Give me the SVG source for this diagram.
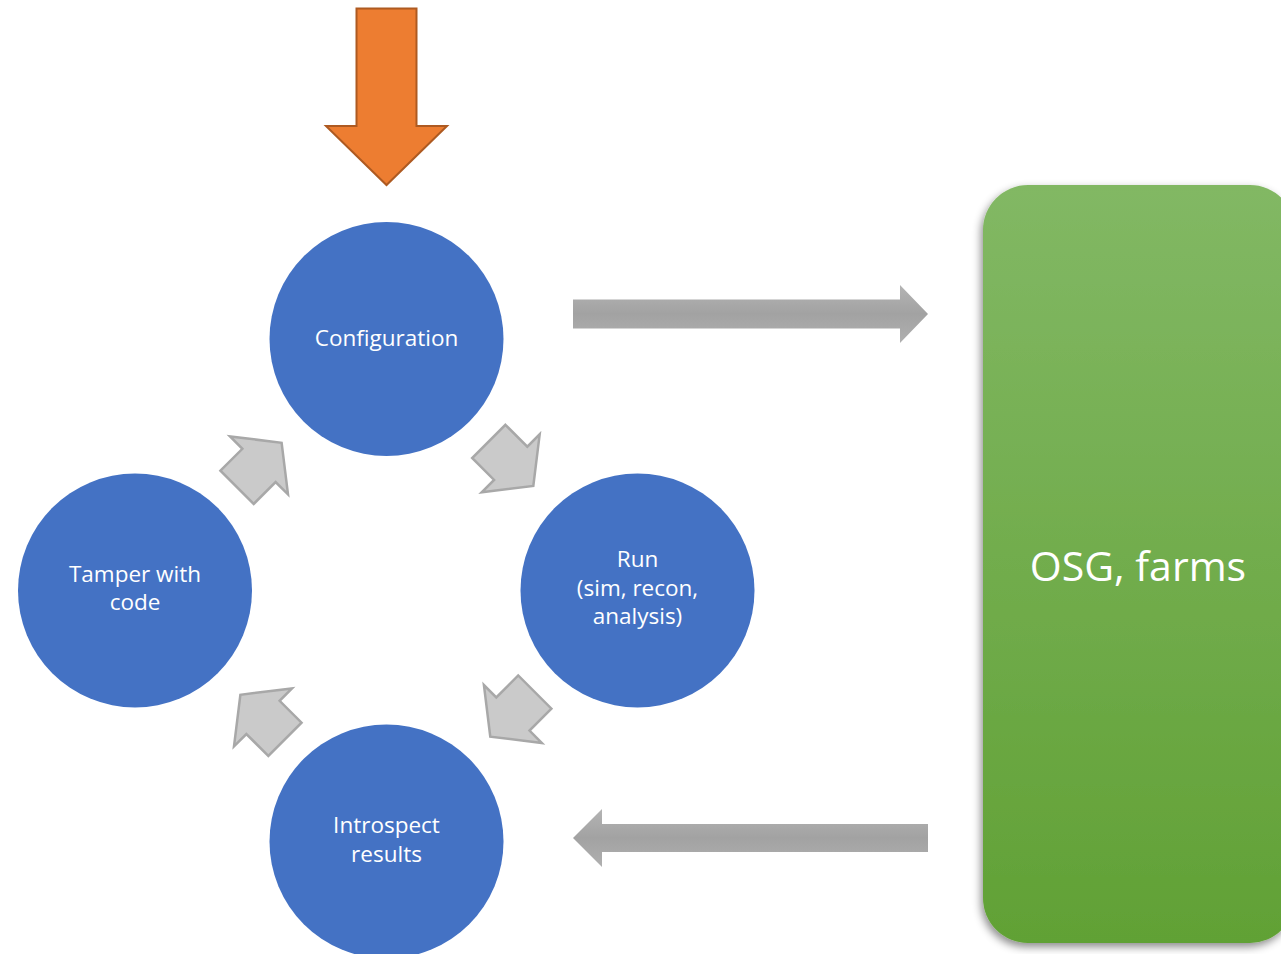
<svg xmlns="http://www.w3.org/2000/svg" width="1281" height="954" viewBox="0 0 1281 954">
<style>
.node{fill:#4472C4}
.lbl{fill:#fff;font-family:"Open Sans","Noto Sans",sans-serif;font-size:22.5px;text-anchor:middle}
.big{fill:#fff;font-family:"Open Sans","Noto Sans",sans-serif;font-size:41px;text-anchor:middle}
.small{fill:#CACACA;stroke:#A8A8A8;stroke-width:2.5;stroke-linejoin:miter}
.wide{fill:url(#gray)}
</style>
<defs>
<linearGradient id="gray" x1="0" y1="0" x2="0" y2="1">
<stop offset="0" stop-color="#B4B4B4"/><stop offset="0.5" stop-color="#A2A2A2"/><stop offset="1" stop-color="#B0B0B0"/>
</linearGradient>
<linearGradient id="green" x1="0" y1="0" x2="0" y2="1">
<stop offset="0" stop-color="#82B864"/><stop offset="1" stop-color="#61A135"/>
</linearGradient>
<filter id="sh" x="-10%" y="-10%" width="130%" height="120%">
<feDropShadow dx="-2" dy="4" stdDeviation="4" flood-color="#000" flood-opacity="0.45"/>
</filter>
<polygon id="sa" points="-31,-23.5 0,-23.5 0,-41 32,0 0,41 0,23.5 -31,23.5"/>
</defs>

<g id="input-arrow">
<polygon points="356.5,8.5 416.5,8.5 416.5,126 447,126 386.5,185 326,126 356.5,126" fill="#ED7D31" stroke="#AE5A21" stroke-width="2"/>
</g>

<g id="osg">
<rect x="983" y="185" width="312" height="758" rx="45" ry="45" fill="url(#green)" filter="url(#sh)"/>
<text class="big" x="1138" y="581">OSG, farms</text>
</g>

<g id="configuration">
<circle class="node" cx="386.5" cy="339" r="117"/>
<text class="lbl" x="386.5" y="346">Configuration</text>
</g>
<g id="run">
<circle class="node" cx="637.5" cy="590.5" r="117"/>
<text class="lbl" x="637.5" y="567">Run</text>
<text class="lbl" x="637.5" y="596">(sim, recon,</text>
<text class="lbl" x="637.5" y="624">analysis)</text>
</g>
<g id="introspect">
<circle class="node" cx="386.5" cy="841.5" r="117"/>
<text class="lbl" x="386.5" y="833">Introspect</text>
<text class="lbl" x="386.5" y="862">results</text>
</g>
<g id="tamper">
<circle class="node" cx="135" cy="590.5" r="117"/>
<text class="lbl" x="135" y="582">Tamper with</text>
<text class="lbl" x="135" y="610">code</text>
</g>

<g id="connectors">
<use href="#sa" class="small" transform="translate(510.7,463.3) rotate(45)"/>
<use href="#sa" class="small" transform="translate(512.9,714) rotate(135)"/>
<use href="#sa" class="small" transform="translate(263,717.4) rotate(-135)"/>
<use href="#sa" class="small" transform="translate(259,465.4) rotate(-45)"/>
<polygon class="wide" points="573,299.5 900,299.5 900,285 928,314 900,343 900,328.5 573,328.5"/>
<polygon class="wide" points="928,824 602,824 602,809 573,838 602,867 602,852 928,852"/>
</g>
</svg>
